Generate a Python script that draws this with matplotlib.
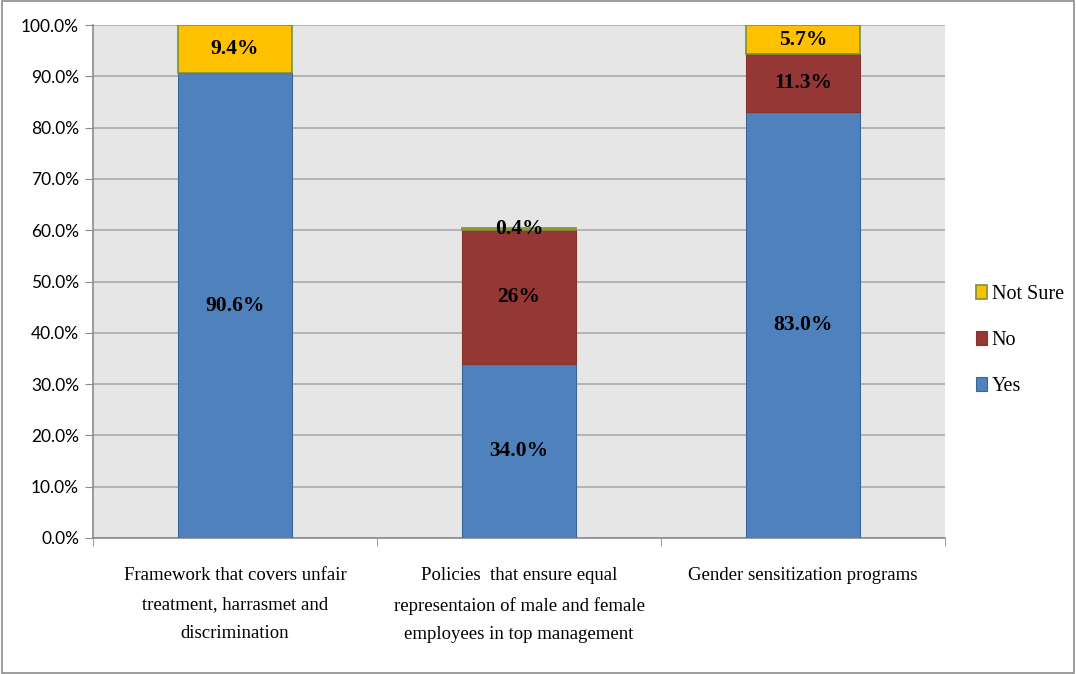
import numpy as np
import matplotlib.pyplot as plt
from matplotlib.patches import Rectangle

categories = [
    "Framework that covers unfair\ntreatment, harrasmet and\ndiscrimination",
    "Policies  that ensure equal\nrepresentaion of male and female\nemployees in top management",
    "Gender sensitization programs",
]
yes = [90.6, 34.0, 83.0]
no = [0.0, 26.0, 11.3]
not_sure = [9.4, 0.4, 5.7]
yes_labels = ["90.6%", "34.0%", "83.0%"]
no_labels = ["", "26%", "11.3%"]
not_sure_labels = ["9.4%", "0.4%", "5.7%"]

fig = plt.figure(figsize=(10.76, 6.74), dpi=100)
ax = fig.add_axes([93 / 1076, 1 - 538 / 674, (945 - 93) / 1076, (538 - 25) / 674])
ax.set_facecolor("#E6E6E6")

# border round the whole chart
fig.patches.append(Rectangle((0.002, 0.002), 0.996, 0.996, transform=fig.transFigure,
                             fill=False, edgecolor="#8C8C8C", lw=1.2))

x = np.arange(len(categories))
w = 0.40
yes = np.array(yes)
no = np.array(no)
not_sure = np.array(not_sure)

b1 = ax.bar(x, yes, w, color="#4F81BD", edgecolor="#3B659A", lw=0.8, label="Yes", zorder=3)
b2 = ax.bar(x, no, w, bottom=yes, color="#953735", edgecolor="#8A3230", lw=0.8, label="No", zorder=3)
b3 = ax.bar(x, not_sure, w, bottom=yes + no, color="#FFC000", edgecolor="#77933C", lw=1.2,
            label="Not Sure", zorder=3)

lbl_font = dict(family="Liberation Serif", fontsize=15.5, fontweight="bold", ha="center", va="center",
                zorder=5)
for i in range(len(x)):
    ax.text(x[i], yes[i] / 2, yes_labels[i], **lbl_font)
    if no_labels[i]:
        ax.text(x[i], yes[i] + no[i] / 2, no_labels[i], **lbl_font)
    ax.text(x[i], yes[i] + no[i] + not_sure[i] / 2, not_sure_labels[i], **lbl_font)

ax.set_ylim(0, 100)
ax.set_xlim(-0.5, 2.5)
ax.set_yticks(np.arange(0, 101, 10))
ax.set_yticklabels(["%.1f%%" % v for v in np.arange(0, 101, 10)], family="Lato", fontsize=12.5)
ax.yaxis.grid(True, color="#A6A6A6", lw=1.1, zorder=0)
ax.set_axisbelow(True)

ax.set_xticks(x)
ax.set_xticklabels(categories, family="Liberation Serif", fontsize=13.5, linespacing=1.9,
                   va="top")
ax.set_xticks([-0.5, 0.5, 1.5, 2.5], minor=True)
ax.tick_params(axis="x", which="major", length=0, pad=21)
ax.tick_params(axis="x", which="minor", length=6, color="#8C8C8C")
ax.tick_params(axis="y", length=6, color="#8C8C8C", pad=4)

for s in ["top", "right"]:
    ax.spines[s].set_visible(False)
for s in ["left", "bottom"]:
    ax.spines[s].set_color("#8C8C8C")
    ax.spines[s].set_linewidth(1.2)

handles = [b3, b2, b1]
leg = fig.legend(handles, ["Not Sure", "No", "Yes"], loc="center left",
                 bbox_to_anchor=(0.890, 0.495), frameon=False,
                 prop={"family": "Liberation Serif", "size": 14.5},
                 handlelength=0.55, handleheight=0.7, handletextpad=0.25, labelspacing=1.35)

fig.savefig("out.png", dpi=100)
